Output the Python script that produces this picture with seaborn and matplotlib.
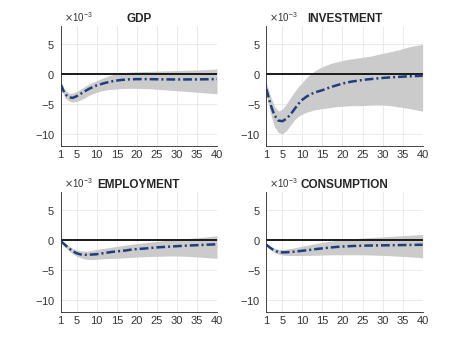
import numpy as np
import pandas as pd
import seaborn as sns
import matplotlib.pyplot as plt
from matplotlib.ticker import ScalarFormatter

# impulse responses, in units of 1e-3
horizon = list(range(1, 41))
scale = 1e-3

gdp_med = [-1.7, -3.3, -3.9, -4.0, -3.7, -3.3, -2.9, -2.5, -2.2, -1.9,
           -1.7, -1.5, -1.35, -1.2, -1.1, -1.0, -0.95, -0.9, -0.88, -0.86,
           -0.85, -0.85, -0.86, -0.87, -0.88, -0.89, -0.9, -0.9, -0.91, -0.91,
           -0.91, -0.91, -0.9, -0.9, -0.9, -0.89, -0.88, -0.87, -0.86, -0.85]
gdp_hi = [-1.4, -2.6, -3.2, -3.2, -2.9, -2.5, -2.1, -1.7, -1.4, -1.1,
          -0.8, -0.55, -0.3, -0.1, 0.05, 0.15, 0.25, 0.3, 0.35, 0.38,
          0.4, 0.42, 0.44, 0.46, 0.48, 0.5, 0.52, 0.54, 0.56, 0.58,
          0.6, 0.62, 0.64, 0.66, 0.68, 0.7, 0.73, 0.76, 0.8, 0.85]
gdp_lo = [-2.0, -3.9, -4.5, -4.7, -4.6, -4.3, -4.0, -3.6, -3.3, -3.05,
          -2.85, -2.7, -2.6, -2.55, -2.5, -2.45, -2.42, -2.4, -2.4, -2.4,
          -2.42, -2.44, -2.47, -2.5, -2.55, -2.6, -2.65, -2.7, -2.75, -2.8,
          -2.85, -2.9, -2.95, -3.0, -3.05, -3.1, -3.15, -3.2, -3.25, -3.3]

inv_med = [-2.5, -5.0, -6.9, -7.8, -7.9, -7.5, -6.8, -5.9, -5.0, -4.3,
           -3.8, -3.4, -3.1, -2.9, -2.7, -2.45, -2.2, -2.0, -1.8, -1.6,
           -1.45, -1.3, -1.2, -1.1, -1.0, -0.92, -0.85, -0.78, -0.72, -0.66,
           -0.61, -0.56, -0.52, -0.48, -0.44, -0.4, -0.37, -0.34, -0.32, -0.3]
inv_hi = [-1.5, -3.6, -5.4, -6.2, -5.9, -5.0, -4.0, -3.0, -2.1, -1.4,
          -0.6, 0.0, 0.5, 0.9, 1.2, 1.5, 1.75, 1.95, 2.1, 2.25,
          2.4, 2.5, 2.6, 2.7, 2.8, 2.9, 3.0, 3.15, 3.3, 3.45,
          3.6, 3.75, 3.9, 4.05, 4.25, 4.45, 4.6, 4.75, 4.85, 4.95]
inv_lo = [-3.2, -6.5, -8.8, -9.8, -10.0, -9.5, -8.6, -7.7, -7.1, -6.7,
          -6.4, -6.2, -6.0, -5.9, -5.8, -5.7, -5.6, -5.5, -5.45, -5.4,
          -5.35, -5.3, -5.3, -5.3, -5.3, -5.25, -5.2, -5.2, -5.2, -5.2,
          -5.25, -5.3, -5.4, -5.5, -5.6, -5.7, -5.8, -5.95, -6.1, -6.2]

emp_med = [-0.2, -0.8, -1.4, -1.9, -2.25, -2.45, -2.5, -2.5, -2.45, -2.4,
           -2.3, -2.2, -2.1, -2.0, -1.95, -1.85, -1.8, -1.7, -1.6, -1.55,
           -1.5, -1.45, -1.38, -1.32, -1.27, -1.22, -1.18, -1.14, -1.1, -1.06,
           -1.02, -0.98, -0.95, -0.92, -0.89, -0.86, -0.83, -0.8, -0.77, -0.74]
emp_hi = [0.0, -0.5, -1.0, -1.45, -1.7, -1.85, -1.9, -1.85, -1.75, -1.6,
          -1.5, -1.4, -1.3, -1.2, -1.1, -1.0, -0.9, -0.8, -0.7, -0.62,
          -0.55, -0.47, -0.4, -0.32, -0.25, -0.18, -0.12, -0.06, 0.0, 0.06,
          0.12, 0.18, 0.24, 0.3, 0.36, 0.42, 0.48, 0.55, 0.62, 0.7]
emp_lo = [-0.4, -1.1, -1.8, -2.35, -2.75, -3.0, -3.2, -3.3, -3.3, -3.25,
          -3.2, -3.15, -3.12, -3.1, -3.08, -3.05, -3.0, -2.96, -2.92, -2.88,
          -2.85, -2.82, -2.8, -2.78, -2.76, -2.74, -2.72, -2.7, -2.7, -2.7,
          -2.72, -2.75, -2.78, -2.82, -2.86, -2.9, -2.95, -3.0, -3.05, -3.1]

con_med = [-0.8, -1.35, -1.8, -2.05, -2.1, -2.08, -2.03, -1.98, -1.9, -1.83,
           -1.75, -1.67, -1.58, -1.5, -1.42, -1.35, -1.28, -1.22, -1.16, -1.12,
           -1.08, -1.05, -1.02, -1.0, -0.98, -0.96, -0.95, -0.94, -0.93, -0.92,
           -0.91, -0.9, -0.89, -0.88, -0.87, -0.86, -0.85, -0.84, -0.83, -0.82]
con_hi = [-0.6, -1.05, -1.4, -1.6, -1.6, -1.55, -1.45, -1.35, -1.2, -1.05,
          -0.92, -0.8, -0.68, -0.55, -0.42, -0.32, -0.22, -0.13, -0.05, 0.02,
          0.08, 0.14, 0.2, 0.25, 0.3, 0.34, 0.38, 0.42, 0.46, 0.5,
          0.54, 0.58, 0.62, 0.66, 0.7, 0.74, 0.78, 0.82, 0.86, 0.9]
con_lo = [-1.0, -1.6, -2.1, -2.4, -2.55, -2.6, -2.62, -2.63, -2.63, -2.62,
          -2.6, -2.6, -2.58, -2.56, -2.55, -2.53, -2.52, -2.5, -2.5, -2.5,
          -2.5, -2.5, -2.5, -2.5, -2.5, -2.52, -2.54, -2.56, -2.58, -2.6,
          -2.63, -2.66, -2.7, -2.74, -2.78, -2.82, -2.86, -2.9, -2.95, -3.0]

panels = [("GDP", gdp_med, gdp_lo, gdp_hi),
          ("INVESTMENT", inv_med, inv_lo, inv_hi),
          ("EMPLOYMENT", emp_med, emp_lo, emp_hi),
          ("CONSUMPTION", con_med, con_lo, con_hi)]

# matlab default subplot positions
positions = [[0.13, 0.5838, 0.3347, 0.3412],
             [0.5703, 0.5838, 0.3347, 0.3412],
             [0.13, 0.11, 0.3347, 0.3412],
             [0.5703, 0.11, 0.3347, 0.3412]]

sns.set_style("whitegrid")
plt.rcParams['font.family'] = ['Liberation Sans', 'DejaVu Sans']
plt.rcParams['axes.unicode_minus'] = False

fig = plt.figure(figsize=(4.67, 3.5), dpi=100)

for (title, med, lo, hi), pos in zip(panels, positions):
    ax = fig.add_axes(pos)
    df = pd.DataFrame({"h": horizon,
                       "med": np.array(med) * scale,
                       "lo": np.array(lo) * scale,
                       "hi": np.array(hi) * scale})
    ax.fill_between(df["h"], df["lo"], df["hi"], color="#cbcbcb", lw=0, zorder=1)
    ax.axhline(0, color="#1a1a1a", lw=1.4, zorder=2)
    sns.lineplot(data=df, x="h", y="med", ax=ax, color="#1f3e7c", lw=1.8,
                 linestyle=(0, (3.5, 1.2, 0.8, 1.2)), zorder=3)
    ax.set_xlim(1, 40)
    ax.set_ylim(-12e-3, 8e-3)
    ax.set_xticks([1, 5, 10, 15, 20, 25, 30, 35, 40])
    ax.set_yticks([-10e-3, -5e-3, 0, 5e-3])
    fmt = ScalarFormatter(useMathText=True)
    fmt.set_powerlimits((-3, -3))
    ax.yaxis.set_major_formatter(fmt)
    off = ax.yaxis.get_offset_text()
    off.set_fontsize(7)
    off.set_color("#555555")
    off.set_x(0.02)
    ax.set_xlabel("")
    ax.set_ylabel("")
    ax.set_title(title, fontsize=8.5, fontweight="bold", pad=3)
    ax.tick_params(labelsize=8, colors="#333333", length=0, pad=4)
    ax.tick_params(axis="x", pad=3)
    ax.grid(True, color="#e6e6e6", lw=0.6)
    ax.set_axisbelow(True)
    for s in ["top", "right"]:
        ax.spines[s].set_visible(False)
    for s in ["left", "bottom"]:
        ax.spines[s].set_color("#262626")
        ax.spines[s].set_linewidth(0.6)

fig.savefig("out.png", dpi=100)
